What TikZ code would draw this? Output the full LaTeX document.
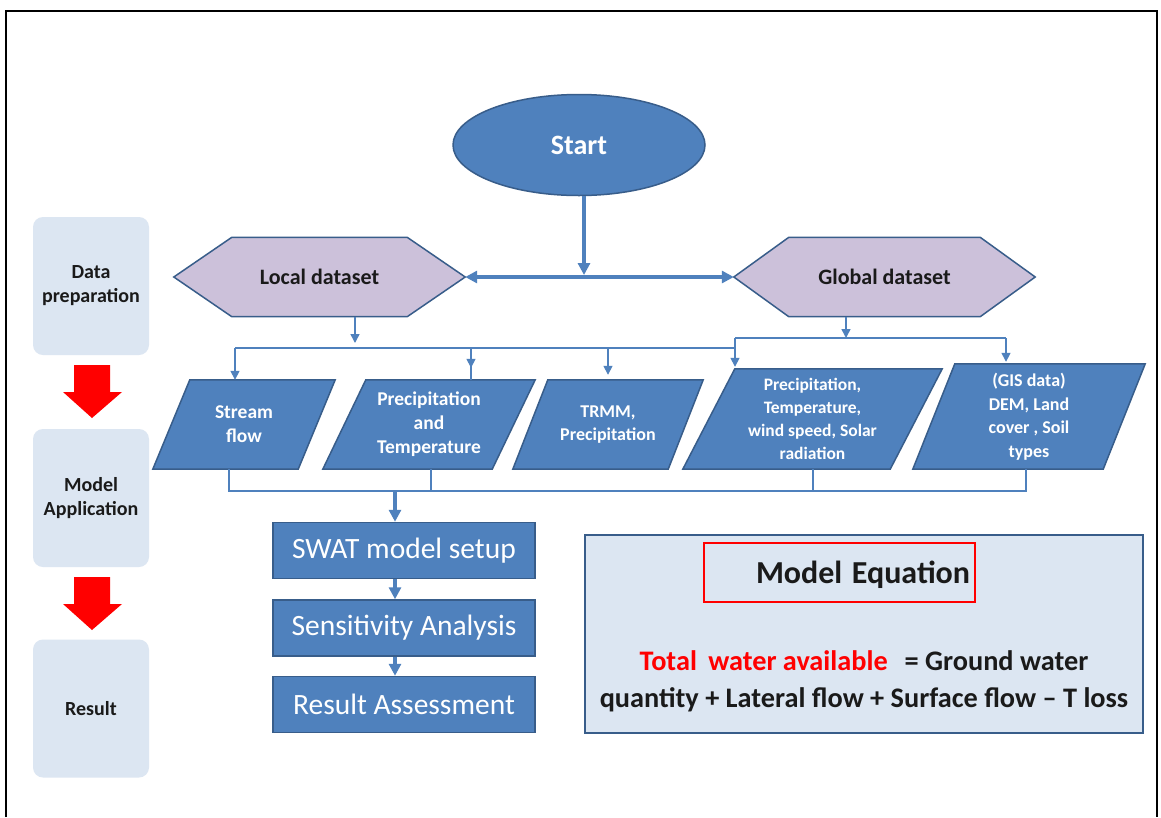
\documentclass[tikz,border=0pt]{standalone}
\usepackage{fontspec}
\setmainfont{Carlito}
\usetikzlibrary{arrows.meta,shapes.geometric,calc}

\definecolor{flowblue}{HTML}{4F81BD}
\definecolor{flowedge}{HTML}{385D8A}
\definecolor{lilac}{HTML}{CCC1DA}
\definecolor{paleblue}{HTML}{DCE6F2}
\definecolor{inkblack}{HTML}{1A1A1A}

\pgfdeclarelayer{back}
\pgfsetlayers{back,main}

\newcommand\fsz[2]{\fontsize{#1}{#2}\selectfont}
% hexagon drawn behind a node: #1 node name, #2 depth of the points
\newcommand\hexback[2]{%
  \begin{pgfonlayer}{back}
    \path[hexshape] (#1.west) -- ([xshift=#2]#1.north west) -- ([xshift=-#2]#1.north east)
      -- (#1.east) -- ([xshift=-#2]#1.south east) -- ([xshift=#2]#1.south west) -- cycle;
  \end{pgfonlayer}}
% parallelogram drawn behind a node: #1 node name, #2 slant
\newcommand\paraback[2]{%
  \begin{pgfonlayer}{back}
    \path[bluefill] ([xshift=#2]#1.north west) -- (#1.north east)
      -- ([xshift=-#2]#1.south east) -- (#1.south west) -- cycle;
  \end{pgfonlayer}}

\tikzset{
  bluefill/.style={fill=flowblue, draw=flowedge, line width=1.5pt},
  hexshape/.style={fill=lilac, draw=flowedge, line width=1.5pt},
  startnode/.style={ellipse, bluefill, minimum width=252pt, minimum height=101pt,
    inner sep=0pt, text=white, font=\fsz{28}{32}\bfseries},
  hexbox/.style={inner sep=0pt, minimum height=79pt, text=inkblack, font=\fsz{22}{26}\bfseries},
  parabox/.style={inner sep=0pt, align=center, text=white, font=\fsz{19.5}{24}\bfseries},
  stepbox/.style={rectangle, bluefill, minimum width=262pt, minimum height=56pt,
    inner sep=0pt, text=white, font=\fsz{29.5}{34}},
  stagebox/.style={rectangle, rounded corners=10pt, fill=paleblue, minimum width=116pt,
    minimum height=138pt, align=center, text=inkblack, font=\fsz{20}{24}\bfseries},
  link/.style={draw=flowblue, line width=1.5pt},
  linkarrow/.style={link, -{Triangle[length=9pt,width=9pt]}},
  mainarrow/.style={draw=flowblue, line width=4pt, -{Triangle[length=12pt,width=12pt]}},
  bothmain/.style={draw=flowblue, line width=4pt,
    {Triangle[length=12pt,width=12pt]}-{Triangle[length=12pt,width=12pt]}},
  stagearrow/.style={fill=red},
}

\begin{document}
\begin{tikzpicture}[x=1pt,y=-1pt]
\useasboundingbox (0,0) rectangle (1161,817);
\begin{pgfonlayer}{back}
  \fill[white] (0,0) rectangle (1161,817);
\end{pgfonlayer}

% outer frame
\draw[line width=2pt] (6,817) -- (6,11) -- (1157,11) -- (1157,817);

% ---------- stages on the left ----------
\node[stagebox] (prep) at (91,286) {Data\\preparation};
\node[stagebox] (appl) at (91,498) {Model\\Application};
\node[stagebox] (res)  at (91,708.5) {Result};
\fill[stagearrow] (74,365) -- (110,365) -- (110,392) -- (122,392) -- (92,418) -- (63,392) -- (74,392) -- cycle;
\fill[stagearrow] (74,577) -- (110,577) -- (110,604) -- (122,604) -- (92,630) -- (63,604) -- (74,604) -- cycle;

% ---------- start and datasets ----------
\node[startnode] (start) at (579,145) {Start};

\node[hexbox, minimum width=291pt] (local) at (319.5,277) {Local dataset};
\hexback{local}{58pt}
\node[hexbox, minimum width=301pt] (global) at (884.5,277) {Global dataset};
\hexback{global}{55pt}

\coordinate (hub) at (584,277);
\draw[mainarrow] (start.south -| hub) -- ([yshift=2pt]hub);
\draw[bothmain] (local.east) -- (global.west);

% ---------- data items ----------
\node[parabox, minimum width=182pt, minimum height=89pt] (stream) at (244,424.5) {Stream\\flow};
\paraback{stream}{37pt}
\node[parabox, minimum width=212pt, minimum height=89pt] (prectemp) at (429,424.5) {Precipitation\\and\\Temperature};
\paraback{prectemp}{43pt}
\node[parabox, minimum width=190pt, minimum height=89pt, font=\fsz{18}{23}\bfseries] (trmm) at (608,424.5) {TRMM,\\Precipitation};
\paraback{trmm}{35pt}
\node[parabox, minimum width=259pt, minimum height=100pt, font=\fsz{17.5}{23}\bfseries] (climate) at (812.5,419) {Precipitation,\\Temperature,\\wind speed, Solar\\radiation};
\paraback{climate}{52pt}
\node[parabox, minimum width=232pt, minimum height=105pt, font=\fsz{18}{23.5}\bfseries] (gis) at (1029,416.5) {(GIS data)\\DEM, Land\\cover , Soil\\types};
\paraback{gis}{42pt}

% local branches
\coordinate (lsplit) at (355,343);
\coordinate (tapA) at (235,348);
\coordinate (tapB) at (471,348);
\coordinate (tapC) at (608,348);
\coordinate (tapD) at (735,348);
\draw[linkarrow] (local.south -| lsplit) -- (lsplit);
\draw[link] (tapA) -- (tapD);
\draw[linkarrow] (tapA) -- (tapA |- stream.north);
\draw[link] (tapB) -- (tapB |- prectemp.north);
\draw[linkarrow] (tapB) -- ($(tapB |- prectemp.north)+(0,-12)$);
\draw[linkarrow] (tapC) -- ($(tapC |- trmm.north)+(0,-5)$);

% global branches
\coordinate (gsplit) at (846,338);
\coordinate (gtapD) at (735,338);
\coordinate (gtapE) at (1006,338);
\draw[linkarrow] (global.south -| gsplit) -- (gsplit);
\draw[link] (gtapD) -- (gtapE);
\draw[link] (gtapD) -- (tapD);
\draw[linkarrow] (gtapD) -- ($(gtapD |- climate.north)+(0,-2)$);
\draw[linkarrow] (gtapE) -- ($(gtapE |- gis.north)+(0,-2)$);

% ---------- model steps ----------
\node[stepbox] (swat)   at (404,550.5) {SWAT model setup};
\node[stepbox] (sens)   at (404,628)   {Sensitivity Analysis};
\node[stepbox] (assess) at (404,704.5) {Result Assessment};

% collector from the data items
\coordinate (busL) at (229,491);
\coordinate (busB) at (431,491);
\coordinate (busD) at (813,491);
\coordinate (busR) at (1026,491);
\coordinate (busDrop) at (395,491);
\draw[link] (stream.south -| busL) -- (busL) -- (busR) -- (busR |- gis.south);
\draw[link] (prectemp.south -| busB) -- (busB);
\draw[link] (climate.south -| busD) -- (busD);
\draw[mainarrow] (busDrop) -- (busDrop |- swat.north);
\draw[mainarrow] (swat.south -| busDrop) -- (sens.north -| busDrop);
\draw[mainarrow] (sens.south -| busDrop) -- (assess.north -| busDrop);

% ---------- model equation ----------
\node[draw=flowedge, fill=paleblue, line width=2pt, minimum width=558pt, minimum height=198pt] (eqbox) at (864,634) {};
\node[draw=red, line width=2pt, minimum width=271pt, minimum height=59pt] (eqframe) at (839.5,572.5) {};
\node[font=\fsz{32}{36}\bfseries, text=inkblack] (eqhead) at (863,575) {Model\hspace{0.3em}Equation};
\node[font=\fsz{28.3}{37}\bfseries, text=inkblack, align=center] (eqtext) at (864,681)
  {\textcolor{red}{Total\hspace{0.4em}water available}\hspace{0.6em}= Ground water\\quantity + Lateral flow + Surface flow – T loss};
\end{tikzpicture}
\end{document}
